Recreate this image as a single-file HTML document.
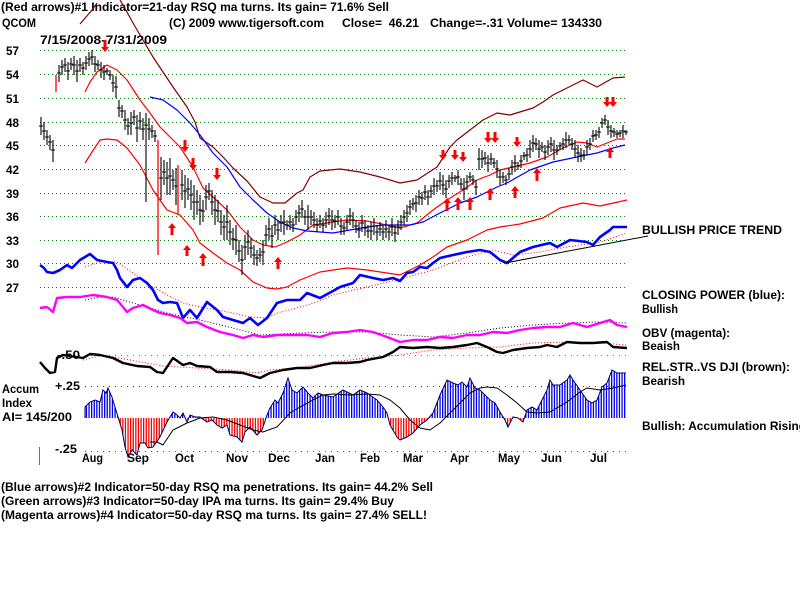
<!DOCTYPE html>
<html><head><meta charset="utf-8"><style>
html,body{margin:0;padding:0;background:#fff;width:800px;height:600px;overflow:hidden}
svg{display:block}
text{font-family:"Liberation Sans",Arial,sans-serif;font-weight:bold;font-size:12px;fill:#000}
</style></head><body>
<svg width="800" height="600" viewBox="0 0 800 600" xmlns="http://www.w3.org/2000/svg">
<defs>
<pattern id="pb" width="2.6" height="10" patternUnits="userSpaceOnUse"><rect width="1.3" height="10" fill="#0000ff"/></pattern>
<pattern id="pr" width="2.6" height="10" patternUnits="userSpaceOnUse"><rect width="1.3" height="10" fill="#ff0000"/></pattern>
<clipPath id="ctop"><rect x="0" y="300" width="800" height="118"/></clipPath>
<clipPath id="cbot"><rect x="0" y="418" width="800" height="60"/></clipPath>
</defs>
<rect width="800" height="600" fill="#fff"/>

<!-- header -->
<text x="1" y="11" textLength="388" lengthAdjust="spacingAndGlyphs">(Red arrows)#1 Indicator=21-day RSQ ma turns. Its gain= 71.6% Sell</text>
<text x="2" y="27" textLength="34" lengthAdjust="spacingAndGlyphs">QCOM</text>
<text x="169" y="27" textLength="155" lengthAdjust="spacingAndGlyphs">(C) 2009 www.tigersoft.com</text>
<text x="342" y="27" textLength="77" lengthAdjust="spacingAndGlyphs" xml:space="preserve">Close=  46.21</text>
<text x="430" y="27" textLength="172" lengthAdjust="spacingAndGlyphs">Change=-.31 Volume= 134330</text>
<text x="40" y="44" textLength="127" lengthAdjust="spacingAndGlyphs">7/15/2008-7/31/2009</text>

<!-- price grid -->
<g stroke="#008000" stroke-width="1" stroke-dasharray="1 3">
<path d="M40 50.5H628M40 74.5H628M40 98.5H628M40 122.5H628M40 145.5H628M40 169.5H628M40 193.5H628M40 216.5H628M40 240.5H628M40 263.5H628M40 287.5H628"/>
</g>
<g>
<text x="6" y="55" textLength="13" lengthAdjust="spacingAndGlyphs">57</text>
<text x="6" y="79" textLength="13" lengthAdjust="spacingAndGlyphs">54</text>
<text x="6" y="103" textLength="13" lengthAdjust="spacingAndGlyphs">51</text>
<text x="6" y="127" textLength="13" lengthAdjust="spacingAndGlyphs">48</text>
<text x="6" y="150" textLength="13" lengthAdjust="spacingAndGlyphs">45</text>
<text x="6" y="174" textLength="13" lengthAdjust="spacingAndGlyphs">42</text>
<text x="6" y="198" textLength="13" lengthAdjust="spacingAndGlyphs">39</text>
<text x="6" y="221" textLength="13" lengthAdjust="spacingAndGlyphs">36</text>
<text x="6" y="245" textLength="13" lengthAdjust="spacingAndGlyphs">33</text>
<text x="6" y="268" textLength="13" lengthAdjust="spacingAndGlyphs">30</text>
<text x="6" y="292" textLength="13" lengthAdjust="spacingAndGlyphs">27</text>
</g>

<!-- bands -->
<g fill="none" stroke-width="1.2" stroke-linejoin="round">
<polyline stroke="#800000" points="80,24 86,17 92,10 97,3"/>
<polyline stroke="#800000" points="120,0 127,12 133,23 143,40 153,57 163,72 173,87 187,107 195,122 200,138 213,147 223,157 233,168 247,181 260,197 273,203 285,203 297,193 303,190 310,177 320,171 340,169 360,172 380,177 400,183 417,180 437,167 450,147 457,140 470,130 483,120 497,113 510,115 533,108 543,102 553,95 567,88 583,80 597,87 613,78 625,77"/>
<polyline stroke="#ff0000" points="85,92 90,82 97,72 107,65 117,70 127,80 140,100 150,113 160,127 170,137 180,147 193,167 203,188 213,197 227,210 240,227 253,240 263,245 275,247 287,242 300,235 313,225 333,222 347,220 367,221 387,225 400,228 417,223 433,210 447,200 463,190 477,180 490,175 500,170 513,167 530,163 547,157 563,148 577,142 587,143 597,147 607,143 617,139 625,139"/>
<polyline stroke="#0000ff" points="150,97 163,100 177,110 190,123 200,135 213,153 227,167 240,187 253,200 267,213 280,222 293,228 307,231 320,232 333,233 350,230 367,227 383,225 410,225 423,222 440,213 460,203 477,197 497,187 507,183 530,170 553,162 577,157 597,153 613,148 625,145"/>
<polyline stroke="#ff0000" points="85,163 92,152 100,140 107,139 117,140 127,148 140,165 153,190 167,210 180,215 193,230 200,243 213,253 227,263 240,270 253,282 267,288 277,289 287,287 300,280 320,272 347,268 367,270 387,273 400,275 420,265 433,257 447,247 467,240 487,230 500,227 520,224 543,218 560,208 583,203 600,206 627,200"/>
</g>

<!-- price bars -->
<path stroke="#000" stroke-width="1.1" fill="none" d="M41 117V135M39 126h4M44 122V140M42 131h4M47 130V145M45 137h4M50 135V150M48 142h4M53 140V162M51 150h4
M59 65V82M57 73h4M62 60V75M60 67h4M65 58V72M63 65h4M68 62V80M66 71h4M71 58V70M69 64h4M74 56V75M72 65h4M77 60V82M75 71h4M80 58V72M78 65h4M83 62V75M81 68h4M86 56V70M84 63h4M89 52V66M87 59h4M92 50V65M90 57h4M95 56V72M93 64h4M98 60V70M96 65h4M101 62V78M99 70h4M104 65V80M102 72h4M107 68V75M105 71h4M110 70V80M108 75h4M113 75V92M111 83h4M116 76V98M114 87h4
M119 100V117M117 108h4M122 105V118M120 111h4M125 110V130M123 120h4M128 118V135M126 126h4M131 112V135M129 123h4M134 110V125M132 117h4M137 115V142M135 128h4M140 112V130M138 121h4M143 118V140M141 129h4M146 113V202M144 125h4M149 118V140M147 129h4M152 125V138M150 131h4M155 130V142M153 136h4
M161 157V200M159 178h4M164 160V185M162 172h4M167 162V195M165 178h4M170 158V195M168 176h4M173 170V190M171 180h4M176 168V205M174 186h4M182 170V200M180 185h4M185 175V208M183 191h4M188 178V200M186 189h4M191 180V210M189 195h4M194 185V220M192 202h4M197 190V215M195 202h4M200 195V225M198 210h4M203 200V222M201 211h4M206 185V210M204 197h4M209 183V200M207 191h4M212 190V215M210 202h4M215 195V225M213 210h4M218 200V222M216 211h4M221 210V235M219 222h4M224 215V240M222 227h4M227 205V240M225 222h4M230 220V245M228 232h4M233 228V250M231 239h4M236 225V255M234 240h4M239 240V262M237 251h4M242 245V275M240 260h4M245 235V260M243 247h4M248 230V255M246 242h4M251 238V258M249 248h4M254 245V265M252 255h4M257 250V266M255 258h4M260 248V262M258 255h4M263 240V265M261 252h4
M266 225V245M264 235h4M269 218V240M267 229h4M272 225V248M270 236h4M275 215V235M273 225h4M278 220V240M276 230h4M281 215V232M279 223h4M284 210V235M282 222h4M287 220V230M285 225h4M290 215V230M288 222h4M293 218V232M291 225h4M296 210V225M294 217h4M299 205V222M297 213h4M302 200V218M300 209h4M305 210V225M303 217h4M308 205V230M306 217h4M311 210V225M309 217h4M314 212V228M312 220h4M317 218V232M315 225h4M320 215V228M318 221h4M323 218V232M321 225h4M326 212V228M324 220h4M329 208V225M327 216h4M332 210V230M330 220h4M335 215V228M333 221h4M338 210V225M336 217h4M341 218V235M339 226h4M344 222V235M342 228h4M347 215V230M345 222h4M350 208V225M348 216h4M353 212V228M351 220h4M356 220V233M354 226h4M359 222V238M357 230h4M362 215V232M360 223h4M365 220V236M363 228h4M368 225V238M366 231h4M371 222V240M369 231h4M374 218V235M372 226h4M377 225V240M375 232h4M380 222V236M378 229h4M383 225V240M381 232h4M386 220V238M384 229h4M389 225V240M387 232h4M392 218V236M390 227h4M395 225V242M393 233h4M398 220V235M396 227h4
M401 215V230M399 222h4M404 210V225M402 217h4M407 205V222M405 213h4M410 200V215M408 207h4M413 198V210M411 204h4M416 195V212M414 203h4M419 190V205M417 197h4M422 192V205M420 198h4M425 185V200M423 192h4M428 190V205M426 197h4M431 185V198M429 191h4M434 178V195M432 186h4M437 180V192M435 186h4M440 172V190M438 181h4M443 175V195M441 185h4M446 180V198M444 189h4M449 175V188M447 181h4M452 172V185M450 178h4M455 175V182M453 178h4M458 170V185M456 177h4M461 178V190M459 184h4M464 178V200M462 189h4M467 175V190M465 182h4M470 172V182M468 177h4M473 175V185M471 180h4M476 180V195M474 187h4
M479 148V170M477 159h4M482 150V168M480 159h4M485 152V165M483 158h4M488 155V172M486 163h4M491 153V165M489 159h4M494 158V168M492 163h4M497 160V178M495 169h4M500 170V185M498 177h4M503 172V183M501 177h4M506 175V185M504 180h4M509 168V180M507 174h4M512 160V175M510 167h4M515 155V172M513 163h4M518 162V170M516 166h4M521 155V168M519 161h4M524 152V160M522 156h4M527 148V162M525 155h4M530 140V158M528 149h4M533 135V152M531 143h4M536 138V150M534 144h4M539 140V158M537 149h4M542 142V152M540 147h4M545 145V160M543 152h4M548 140V155M546 147h4M551 137V152M549 144h4M554 140V160M552 150h4M557 145V155M555 150h4M560 142V150M558 146h4M563 138V150M561 144h4M566 132V148M564 140h4M569 135V145M567 140h4M572 138V150M570 144h4M575 140V158M573 149h4M578 145V162M576 153h4M581 148V162M579 155h4M584 150V160M582 155h4M587 140V155M585 147h4M590 138V150M588 144h4M593 130V142M591 136h4M596 130V140M594 135h4M599 127V138M597 132h4M602 118V128M600 123h4M605 115V125M603 120h4M608 120V135M606 127h4M611 125V138M609 131h4M614 128V137M612 132h4M617 130V138M615 134h4M620 130V137M618 133h4M623 125V138M621 131h4M626 130V135M624 132h4"/>
<path stroke="#ff0000" stroke-width="1.3" d="M56 75V92M158 140V255M178 165V215"/>

<!-- arrows -->
<g fill="#ff0000">
<path d="M103.5,40h3v7h2.5l-4,5l-4,-5h2.5z"/>
<path d="M183.5,140h3v7h2.5l-4,5l-4,-5h2.5z"/>
<path d="M191.5,158h3v7h2.5l-4,5l-4,-5h2.5z"/>
<path d="M215.5,168h3v7h2.5l-4,5l-4,-5h2.5z"/>
<path d="M441.5,150h3v5h2.5l-4,5l-4,-5h2.5z"/>
<path d="M453.5,150h3v5h2.5l-4,5l-4,-5h2.5z"/>
<path d="M461.5,152h3v5h2.5l-4,5l-4,-5h2.5z"/>
<path d="M486.5,132h3v6h2.5l-4,5l-4,-5h2.5z"/>
<path d="M493.5,132h3v6h2.5l-4,5l-4,-5h2.5z"/>
<path d="M515.5,137h3v5h2.5l-4,5l-4,-5h2.5z"/>
<path d="M605.5,97h3v5h2.5l-4,5l-4,-5h2.5z"/>
<path d="M611.5,97h3v5h2.5l-4,5l-4,-5h2.5z"/>
<path d="M170.5,235h3v-7h2.5l-4,-5l-4,5h2.5z"/>
<path d="M185.5,256h3v-6h2.5l-4,-5l-4,5h2.5z"/>
<path d="M201.5,266h3v-8h2.5l-4,-5l-4,5h2.5z"/>
<path d="M276.5,269h3v-7h2.5l-4,-5l-4,5h2.5z"/>
<path d="M445.5,211h3v-8h2.5l-4,-5l-4,5h2.5z"/>
<path d="M456.5,210h3v-8h2.5l-4,-5l-4,5h2.5z"/>
<path d="M468.5,210h3v-8h2.5l-4,-5l-4,5h2.5z"/>
<path d="M488.5,200h3v-7h2.5l-4,-5l-4,5h2.5z"/>
<path d="M513.5,198h3v-7h2.5l-4,-5l-4,5h2.5z"/>
<path d="M535.5,181h3v-8h2.5l-4,-5l-4,5h2.5z"/>
<path d="M608.5,158h3v-6h2.5l-4,-5l-4,5h2.5z"/>
</g>

<!-- closing power -->
<polyline fill="none" stroke="#ff0000" stroke-width="1" stroke-dasharray="1 2" points="85,267 100,262 117,262 133,273 150,285 167,295 183,303 200,307 217,310 233,313 250,317 267,318 277,313 300,307 317,302 333,295 367,287 400,279 433,270 467,257 493,250 513,255 533,253 567,247 600,242 627,233"/>
<polyline fill="none" stroke="#0000ff" stroke-width="2.6" stroke-linejoin="round" points="40,265 44,268 47,272 53,273 60,270 67,265 72,268 80,260 85,257 90,254 97,260 107,262 113,263 117,270 120,278 127,287 133,280 140,278 147,283 153,290 158,300 163,303 170,302 177,303 183,318 190,310 197,318 207,302 217,310 223,317 233,320 243,323 250,318 258,325 267,318 277,303 287,300 300,300 307,293 320,298 333,291 340,287 353,283 360,275 373,278 383,280 393,278 400,281 407,273 413,272 420,267 427,268 433,263 440,258 453,255 467,252 480,250 490,252 500,260 507,263 520,252 533,247 550,243 557,247 570,240 587,242 593,245 600,237 610,230 613,227 627,227"/>
<line x1="505" y1="263" x2="648" y2="236" stroke="#000" stroke-width="1"/>

<!-- OBV -->
<polyline fill="none" stroke="#000" stroke-width="1" stroke-dasharray="1 2" points="85,300 100,297 113,297 133,303 167,313 200,320 233,328 260,335 300,333 333,332 367,332 400,335 433,337 467,333 500,328 533,325 567,323 600,322 627,323"/>
<polyline fill="none" stroke="#ff00ff" stroke-width="2.4" stroke-linejoin="round" points="40,308 47,307 53,312 57,298 67,297 80,297 93,295 107,297 117,300 123,307 127,312 133,308 143,305 153,310 160,313 170,315 180,318 187,323 197,322 207,327 220,332 233,335 243,338 253,335 263,337 277,335 290,335 307,335 320,337 333,333 347,332 360,330 373,332 387,337 400,342 413,340 427,340 440,337 453,338 467,335 480,335 493,332 507,333 520,330 533,328 547,327 560,327 573,323 587,327 600,323 610,320 617,325 627,327"/>

<!-- RS -->
<line x1="73" y1="355.5" x2="628" y2="355.5" stroke="#a06080" stroke-width="1" stroke-dasharray="1 5"/>
<text x="57" y="359" textLength="23" lengthAdjust="spacingAndGlyphs">-.50</text>
<polyline fill="none" stroke="#ff0000" stroke-width="1" stroke-dasharray="1 2" points="83,360 103,355 130,360 163,366 197,368 230,370 257,373 270,370 297,368 333,362 367,358 400,355 433,350 467,348 500,347 533,343 567,342 600,343 627,345"/>
<polyline fill="none" stroke="#000" stroke-width="2.4" stroke-linejoin="round" points="40,362 45,368 50,373 55,372 57,358 63,355 83,358 90,354 100,355 113,358 123,363 137,366 150,367 157,372 163,373 173,358 183,365 190,363 197,366 210,367 217,372 230,372 243,373 260,378 270,373 283,370 297,368 310,368 323,365 333,363 347,363 360,362 367,360 383,357 393,352 400,347 413,348 427,347 440,348 453,347 467,345 477,343 487,347 497,352 503,353 513,350 527,348 540,347 547,345 557,347 567,342 580,343 593,343 607,342 613,347 627,348"/>

<!-- Accumulation -->
<line x1="85" y1="386.5" x2="628" y2="386.5" stroke="#404040" stroke-width="1" stroke-dasharray="1 5"/>
<line x1="85" y1="451.5" x2="628" y2="451.5" stroke="#804060" stroke-width="1" stroke-dasharray="1 5"/>
<g id="acc">
<polygon clip-path="url(#ctop)" fill="url(#pb)" points="85,418 85,407 90,402 95,400 100,402 103,390 106,393 108,388 112,397 115,407 118,417 122,430 125,447 128,457 132,450 137,455 140,443 145,443 148,448 153,447 160,437 167,422 170,417 173,412 177,415 180,418 183,413 187,422 190,415 195,417 200,417 207,422 212,420 217,425 222,428 227,425 230,435 237,437 242,442 245,432 250,427 257,435 262,430 267,415 270,408 275,400 278,403 283,393 288,378 292,390 297,393 303,387 308,393 313,398 318,393 323,395 333,397 343,390 353,395 360,390 367,393 377,400 383,407 387,413 390,425 397,437 400,440 407,437 413,433 420,425 427,420 433,413 440,395 447,380 453,383 458,385 462,382 467,387 470,378 475,388 480,390 485,395 490,400 495,403 500,412 505,420 508,427 513,417 518,418 523,422 527,410 532,407 537,410 542,400 547,390 550,380 553,385 560,385 567,380 570,375 573,380 580,390 587,400 592,403 597,400 602,387 607,383 612,370 617,373 622,373 626,373 626,418"/>
<polygon clip-path="url(#cbot)" fill="url(#pr)" points="85,418 85,407 90,402 95,400 100,402 103,390 106,393 108,388 112,397 115,407 118,417 122,430 125,447 128,457 132,450 137,455 140,443 145,443 148,448 153,447 160,437 167,422 170,417 173,412 177,415 180,418 183,413 187,422 190,415 195,417 200,417 207,422 212,420 217,425 222,428 227,425 230,435 237,437 242,442 245,432 250,427 257,435 262,430 267,415 270,408 275,400 278,403 283,393 288,378 292,390 297,393 303,387 308,393 313,398 318,393 323,395 333,397 343,390 353,395 360,390 367,393 377,400 383,407 387,413 390,425 397,437 400,440 407,437 413,433 420,425 427,420 433,413 440,395 447,380 453,383 458,385 462,382 467,387 470,378 475,388 480,390 485,395 490,400 495,403 500,412 505,420 508,427 513,417 518,418 523,422 527,410 532,407 537,410 542,400 547,390 550,380 553,385 560,385 567,380 570,375 573,380 580,390 587,400 592,403 597,400 602,387 607,383 612,370 617,373 622,373 626,373 626,418"/>
<polyline fill="none" stroke="#000060" stroke-width="1" points="85,418 85,407 90,402 95,400 100,402 103,390 106,393 108,388 112,397 115,407 118,417 122,430 125,447 128,457 132,450 137,455 140,443 145,443 148,448 153,447 160,437 167,422 170,417 173,412 177,415 180,418 183,413 187,422 190,415 195,417 200,417 207,422 212,420 217,425 222,428 227,425 230,435 237,437 242,442 245,432 250,427 257,435 262,430 267,415 270,408 275,400 278,403 283,393 288,378 292,390 297,393 303,387 308,393 313,398 318,393 323,395 333,397 343,390 353,395 360,390 367,393 377,400 383,407 387,413 390,425 397,437 400,440 407,437 413,433 420,425 427,420 433,413 440,395 447,380 453,383 458,385 462,382 467,387 470,378 475,388 480,390 485,395 490,400 495,403 500,412 505,420 508,427 513,417 518,418 523,422 527,410 532,407 537,410 542,400 547,390 550,380 553,385 560,385 567,380 570,375 573,380 580,390 587,400 592,403 597,400 602,387 607,383 612,370 617,373 622,373 626,373"/>
</g>
<polyline fill="none" stroke="#000" stroke-width="1" points="150,442 157,442 163,445 173,430 187,423 200,418 213,417 227,420 240,425 253,430 263,432 277,427 290,413 300,407 313,400 323,395 333,394 350,395 367,394 380,395 390,400 400,408 410,420 420,428 430,430 440,423 450,413 460,403 470,393 480,388 487,387 497,388 507,395 517,403 527,412 537,413 550,412 567,402 580,392 587,388 600,390 613,388 626,385"/>
<line x1="39.5" y1="447" x2="39.5" y2="465" stroke="#808000" stroke-width="1"/>

<text x="55" y="390" textLength="25" lengthAdjust="spacingAndGlyphs">+.25</text>
<text x="55" y="453" textLength="22" lengthAdjust="spacingAndGlyphs">-.25</text>
<text x="2" y="393" textLength="37" lengthAdjust="spacingAndGlyphs">Accum</text>
<text x="2" y="407" textLength="30" lengthAdjust="spacingAndGlyphs">Index</text>
<text x="2" y="421" textLength="70" lengthAdjust="spacingAndGlyphs">AI= 145/200</text>

<!-- months -->
<text x="82" y="462" textLength="21" lengthAdjust="spacingAndGlyphs">Aug</text>
<text x="127" y="462" textLength="22" lengthAdjust="spacingAndGlyphs">Sep</text>
<text x="175" y="462" textLength="19" lengthAdjust="spacingAndGlyphs">Oct</text>
<text x="226" y="462" textLength="22" lengthAdjust="spacingAndGlyphs">Nov</text>
<text x="268" y="462" textLength="22" lengthAdjust="spacingAndGlyphs">Dec</text>
<text x="315" y="462" textLength="20" lengthAdjust="spacingAndGlyphs">Jan</text>
<text x="360" y="462" textLength="20" lengthAdjust="spacingAndGlyphs">Feb</text>
<text x="403" y="462" textLength="20" lengthAdjust="spacingAndGlyphs">Mar</text>
<text x="450" y="462" textLength="19" lengthAdjust="spacingAndGlyphs">Apr</text>
<text x="498" y="462" textLength="22" lengthAdjust="spacingAndGlyphs">May</text>
<text x="541" y="462" textLength="21" lengthAdjust="spacingAndGlyphs">Jun</text>
<text x="590" y="462" textLength="17" lengthAdjust="spacingAndGlyphs">Jul</text>

<!-- right labels -->
<text x="642" y="234" textLength="140" lengthAdjust="spacingAndGlyphs">BULLISH PRICE TREND</text>
<text x="642" y="299" textLength="143" lengthAdjust="spacingAndGlyphs">CLOSING POWER (blue):</text>
<text x="642" y="313" textLength="36" lengthAdjust="spacingAndGlyphs">Bullish</text>
<text x="642" y="337" textLength="88" lengthAdjust="spacingAndGlyphs">OBV (magenta):</text>
<text x="642" y="350" textLength="38" lengthAdjust="spacingAndGlyphs">Beaish</text>
<text x="642" y="371" textLength="148" lengthAdjust="spacingAndGlyphs">REL.STR..VS DJI (brown):</text>
<text x="642" y="385" textLength="43" lengthAdjust="spacingAndGlyphs">Bearish</text>
<text x="642" y="430" textLength="164" lengthAdjust="spacingAndGlyphs">Bullish: Accumulation Rising</text>

<!-- bottom -->
<text x="1" y="491" textLength="432" lengthAdjust="spacingAndGlyphs">(Blue arrows)#2 Indicator=50-day RSQ ma penetrations. Its gain= 44.2% Sell</text>
<text x="1" y="505" textLength="393" lengthAdjust="spacingAndGlyphs">(Green arrows)#3 Indicator=50-day IPA ma turns. Its gain= 29.4% Buy</text>
<text x="1" y="519" textLength="426" lengthAdjust="spacingAndGlyphs">(Magenta arrows)#4 Indicator=50-day RSQ ma turns. Its gain= 27.4% SELL!</text>
</svg>
</body></html>
